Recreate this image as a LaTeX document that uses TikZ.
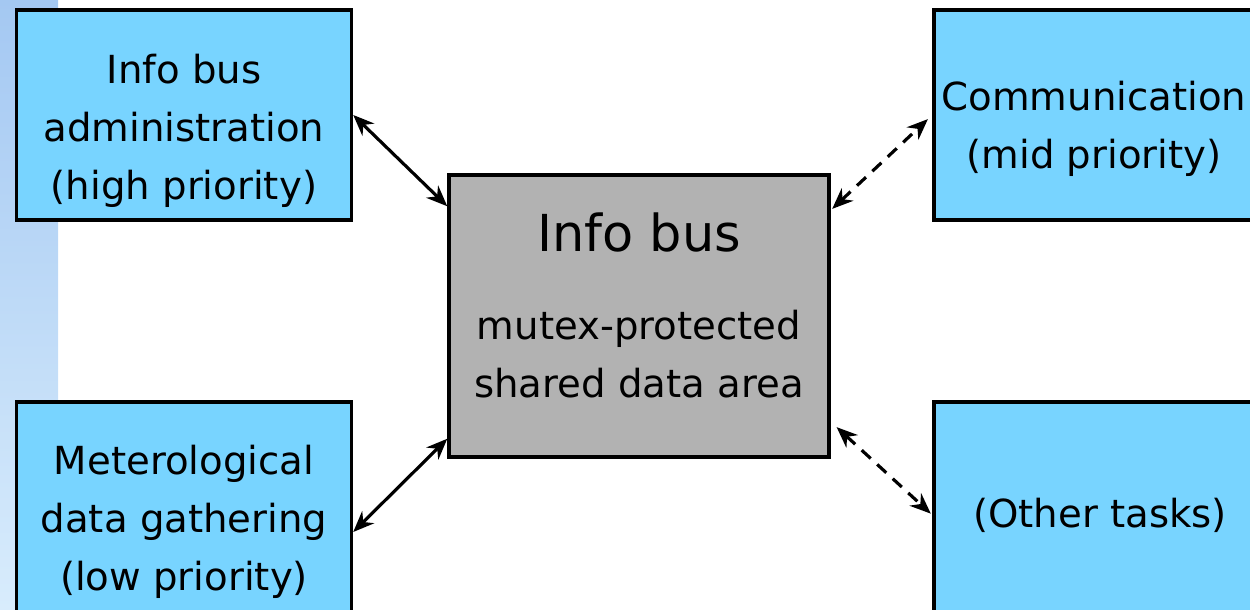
\documentclass[tikz,border=0pt]{standalone}
\usepackage{fontspec}
\setmainfont{DejaVu Sans}
\usetikzlibrary{arrows.meta}
\definecolor{taskblue}{RGB}{120,212,255}
\definecolor{busgray}{RGB}{178,178,178}
\definecolor{stripetop}{RGB}{164,200,242}
\definecolor{stripebot}{RGB}{216,236,252}

\begin{document}
\begin{tikzpicture}[x=0.02cm, y=-0.02cm,
		task/.style={draw, line width=2pt, fill=taskblue, minimum width=6.7cm, minimum height=4.2cm, inner sep=0pt},
		tasktext/.style={align=center, font=\fontsize{22}{33}\selectfont},
		bus/.style={draw, line width=2pt, fill=busgray, minimum width=7.6cm, minimum height=5.64cm, inner sep=0pt, align=center, font=\fontsize{22}{33}\selectfont, text depth=12pt},
		link/.style={arrows={Stealth[length=0.42cm,width=0.34cm]-Stealth[length=0.42cm,width=0.34cm]}, line width=1.8pt},
		weak/.style={link, dash pattern=on 7pt off 5pt}]
			\useasboundingbox (0,0) rectangle (1250,609);
			\path[clip] (0,0) rectangle (1250,609);
			\shade[top color=stripetop, bottom color=stripebot] (0,0) rectangle (58,609);
			% tasks
			\node[task] (admin) at (184,115) {};
			\node[tasktext] (admintext) at ([yshift=-0.32cm]admin.center) {Info bus\\administration\\(high priority)};
			\node[task] (met) at (184,507) {};
			\node[tasktext] (mettext) at ([yshift=-0.3cm]met.center) {Meterological\\data gathering\\(low priority)};
			\node[task, minimum width=6.64cm] (comm) at (1100,115) {};
			\node[tasktext] (commtext) at ([xshift=-0.12cm, yshift=-0.28cm]comm.center) {Communication\\(mid priority)};
			\node[task, minimum width=6.64cm] (other) at (1100,507) {};
			\node[tasktext] (othertext) at ([yshift=-0.16cm]other.center) {(Other tasks)};
			% shared data
			\node[bus] (infobus) at (639,316) {{\fontsize{29}{35}\selectfont Info bus}\\[17pt]mutex-protected\\shared data area};
			\draw[link] (admin.east) -- ([yshift=-0.66cm]infobus.north west);
			\draw[link] ([yshift=-0.5cm]met.east) -- ([yshift=0.4cm]infobus.south west);
			\draw[weak, shorten <=0.04cm, shorten >=0.12cm] ([yshift=-0.74cm]infobus.north east) -- (comm.west);
			\draw[weak, shorten <=0.16cm, shorten >=0.04cm] ([yshift=0.74cm]infobus.south east) -- ([yshift=-0.16cm]other.west);
		\end{tikzpicture}
\end{document}
